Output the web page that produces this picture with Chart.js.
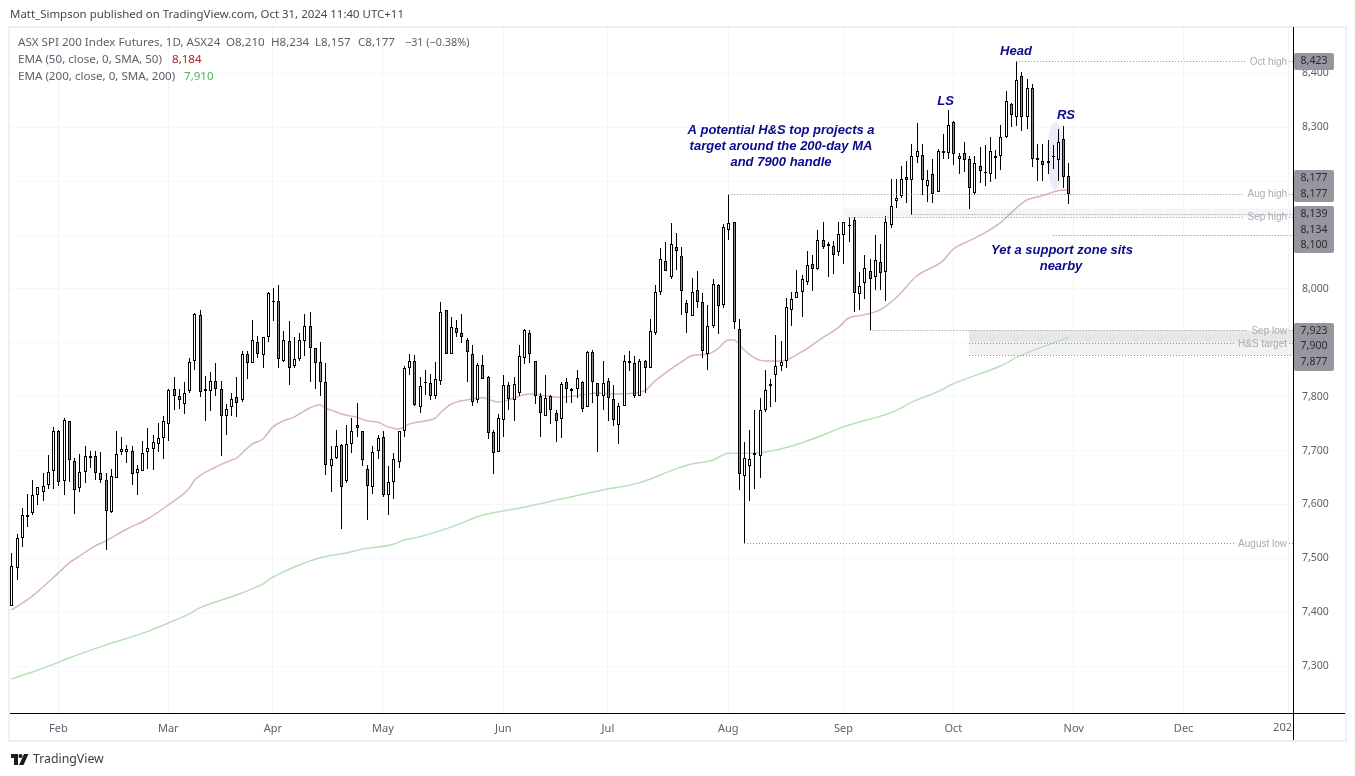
<!DOCTYPE html>
<html>
<head>
<meta charset="utf-8">
<title>ASX SPI 200 Index Futures</title>
<script src="https://cdn.jsdelivr.net/npm/chart.js@4/dist/chart.umd.min.js"></script>
<style>
  html, body { margin: 0; padding: 0; background: #fff; }
  canvas { display: block; }
</style>
</head>
<body>
<canvas id="spiChart" width="1355" height="776"></canvas>
<script>
const opens = [
  7412,7483,7537,7577,7585,7617,7624,7637,7663,7736,
  7643,7754,7680,7630,7661,7689,7689,7658,7646,7586,
  7650,7698,7698,7700,7659,7663,7697,7702,7713,7723,
  7750,7815,7801,7786,7810,7866,7951,7810,7810,7829,
  7815,7765,7780,7799,7793,7879,7862,7901,7877,7910,
  7977,7977,7867,7903,7856,7869,7903,7931,7890,7864,
  7828,7672,7687,7710,7643,7713,7747,7736,7665,7632,
  7700,7726,7617,7641,7678,7736,7854,7866,7780,7828,
  7825,7802,7830,7960,7879,7927,7918,7906,7880,7793,
  7858,7836,7734,7697,7756,7821,7793,7806,7871,7919,
  7866,7801,7765,7801,7769,7758,7827,7814,7814,7828,
  7780,7882,7825,7801,7830,7795,7748,7782,7867,7862,
  7802,7867,7853,7918,7994,8051,8022,8077,8061,7973,
  7949,7998,7975,7879,7931,8007,7970,8109,8124,7925,
  7652,7672,7691,7689,7776,7823,7840,7856,7866,7960,
  7984,7994,8012,8046,8036,8090,8083,8079,8068,8100,
  8118,8128,7990,8011,8033,8022,8050,8031,8118,8163,
  8172,8208,8202,8245,8248,8191,8213,8180,8256,8252,
  8310,8241,8252,8241,8178,8228,8217,8213,8243,8247,
  8282,8343,8319,8395,8319,8373,8239,8237,8233,8247,
  8239,8278,8210
];
const highs = [
  7509,7546,7593,7620,7645,7633,7659,7691,7743,7739,
  7760,7755,7687,7693,7708,7700,7700,7698,7659,7665,
  7737,7726,7711,7708,7674,7717,7741,7728,7752,7765,
  7814,7836,7814,7827,7871,7955,7960,7838,7845,7862,
  7829,7786,7806,7836,7884,7884,7942,7912,7910,7994,
  8001,8007,7921,7940,7910,7918,7953,7957,7891,7901,
  7862,7708,7739,7713,7747,7760,7788,7737,7674,7708,
  7728,7736,7671,7695,7737,7856,7879,7877,7836,7849,
  7843,7864,7975,7961,7947,7942,7953,7908,7895,7862,
  7877,7838,7739,7767,7841,7828,7836,7895,7925,7923,
  7867,7806,7841,7804,7776,7827,7834,7817,7849,7830,
  7884,7886,7826,7866,7834,7821,7789,7877,7884,7875,
  7869,7868,7944,8007,8076,8087,8122,8103,8077,7979,
  8020,8033,7992,7971,8018,8009,8120,8174,8125,7944,
  7715,7739,7775,7797,7849,7832,7914,7903,7983,7994,
  8035,8025,8070,8062,8109,8124,8087,8088,8124,8125,
  8133,8134,8031,8063,8055,8100,8083,8135,8204,8204,
  8228,8237,8269,8308,8269,8220,8241,8259,8287,8332,
  8311,8252,8273,8247,8247,8263,8267,8282,8258,8304,
  8367,8345,8423,8403,8390,8380,8269,8269,8276,8267,
  8297,8302,8234
];
const lows = [
  7412,7460,7521,7558,7581,7599,7606,7629,7629,7635,
  7618,7642,7583,7624,7639,7667,7646,7640,7516,7585,
  7650,7691,7676,7637,7618,7663,7666,7664,7697,7685,
  7718,7776,7778,7767,7806,7850,7800,7755,7774,7802,
  7690,7728,7765,7763,7791,7832,7862,7871,7853,7902,
  7941,7854,7864,7821,7854,7866,7875,7828,7814,7802,
  7654,7624,7684,7555,7639,7695,7726,7671,7572,7620,
  7685,7613,7581,7611,7667,7726,7840,7782,7769,7804,
  7793,7795,7821,7879,7879,7910,7899,7827,7782,7789,
  7832,7722,7656,7697,7726,7776,7754,7802,7860,7862,
  7786,7726,7765,7750,7715,7724,7789,7789,7797,7771,
  7780,7789,7697,7776,7754,7745,7713,7782,7847,7797,
  7802,7806,7853,7914,7988,8033,8018,8035,7951,7918,
  7949,7964,7871,7849,7927,7916,7964,8090,7925,7626,
  7528,7606,7628,7650,7771,7780,7791,7847,7854,7932,
  7983,7947,8007,7996,8035,8074,8023,8027,8061,8046,
  8087,7957,7960,7981,7923,7998,7998,7977,8113,8150,
  8169,8160,8137,8234,8175,8161,8160,8180,8241,8241,
  8230,8214,8217,8149,8174,8196,8191,8198,8204,8220,
  8280,8300,8302,8293,8297,8226,8200,8200,8213,8222,
  8200,8187,8157
];
const closes = [
  7485,7537,7580,7581,7617,7633,7635,7661,7737,7641,
  7756,7682,7626,7661,7689,7689,7658,7646,7587,7652,
  7693,7702,7702,7656,7665,7695,7704,7715,7723,7754,
  7812,7801,7793,7806,7864,7953,7808,7814,7830,7815,
  7765,7778,7795,7789,7879,7862,7905,7879,7910,7992,
  7975,7869,7906,7854,7869,7905,7932,7890,7862,7828,
  7674,7685,7708,7633,7713,7737,7741,7682,7635,7698,
  7724,7617,7641,7684,7736,7854,7866,7784,7819,7825,
  7802,7832,7958,7880,7929,7918,7910,7882,7791,7858,
  7832,7732,7695,7760,7821,7795,7823,7875,7923,7879,
  7802,7769,7797,7775,7754,7823,7814,7814,7834,7778,
  7882,7827,7802,7825,7797,7756,7782,7866,7862,7802,
  7866,7853,7921,7994,8055,8033,8083,8070,7996,7955,
  7994,7975,7884,7931,8009,7968,8115,8122,7938,7656,
  7687,7684,7695,7775,7812,7823,7856,7864,7966,7981,
  7994,8018,8044,8036,8090,8077,8079,8062,8101,8124,
  8116,7992,8005,8038,8018,8053,8029,8124,8154,8169,
  8204,8202,8247,8256,8202,8202,8176,8256,8252,8304,
  8250,8247,8239,8187,8234,8219,8215,8256,8247,8282,
  8349,8323,8388,8319,8373,8241,8243,8230,8237,8245,
  8272,8208,8177
];

// EMA lines at the bars where they bend
const ema50Bars = [0,4,9,11,13,16,18,22,26,30,34,35,39,42,43,46,48,50,52,54,57,59,60,62,63,66,68,70,72,74,76,79,81,82,84,87,90,93,95,99,101,105,109,112,116,121,123,126,128,130,133,135,137,138,140,142,144,147,151,155,158,160,162,166,169,173,178,180,183,186,189,192,194,197,200,202];
const ema50Values = [7404,7430,7473,7491,7504,7523,7532,7554,7573,7599,7630,7645,7669,7682,7686,7712,7721,7744,7755,7762,7779,7785,7779,7772,7768,7762,7755,7753,7744,7740,7749,7755,7760,7770,7786,7794,7798,7790,7794,7805,7803,7799,7803,7807,7805,7811,7829,7851,7864,7876,7879,7889,7905,7905,7887,7872,7866,7866,7883,7909,7928,7946,7950,7961,7983,8024,8052,8074,8089,8104,8123,8150,8165,8173,8182,8184];
const ema200Bars = [0,4,9,11,18,26,30,34,36,43,48,50,59,64,67,73,75,78,84,90,98,105,113,120,127,130,134,137,141,147,153,159,162,168,173,177,180,189,193,202];
const ema200Values = [7276,7289,7307,7315,7339,7364,7380,7397,7408,7432,7452,7465,7501,7510,7517,7526,7534,7540,7558,7580,7595,7610,7627,7640,7666,7675,7682,7695,7695,7703,7721,7744,7753,7770,7794,7809,7824,7857,7877,7910];

const monthBars = [9,30,50,71,94,114,137,159,180,203,224,244];
const monthLabels = ["Feb","Mar","Apr","May","Jun","Jul","Aug","Sep","Oct","Nov","Dec",""];

const levelLabels = ["Oct high","Aug high","","Sep high","","August low","Sep low","H&S target",""];
const levelValues = [8423,8177,8139,8134,8100,7528,7923,7900,7877];
const levelStartBars = [192,137,172,160,199,140,164,183,183];

const tagValues = [8423,8177,8177,8139,8134,8100,7923,7900,7877];
const tagTextY = [61.5,178,194,214,230,245,331,346,362];
const tagBoxes = [[53,70],[170,202],[206,253],[323,371]];

const uiFont = '"Noto Sans", sans-serif';
const noteFont = '"Liberation Sans", Arial, sans-serif';
const noteColor = "#0a0a8c";

const candleBars = opens.map((_, i) => ({ x: i, y: [lows[i], highs[i]] }));
const candleBodies = opens.map((o, i) => ({ x: i, y: [Math.min(o, closes[i]), Math.max(o, closes[i])] }));
const bodyColors = opens.map((o, i) => (closes[i] >= o ? "#ffffff" : "#8a8b92"));

function drawText(ctx, text, x, y, font, color, align) {
  ctx.font = font;
  ctx.fillStyle = color;
  ctx.textAlign = align || "left";
  ctx.textBaseline = "middle";
  ctx.fillText(text, x, y);
}

function hDotted(ctx, x1, x2, y) {
  ctx.save();
  ctx.strokeStyle = "#8b8e97";
  ctx.lineWidth = 1;
  ctx.setLineDash([1, 2]);
  ctx.beginPath();
  ctx.moveTo(x1, Math.round(y) + 0.5);
  ctx.lineTo(x2, Math.round(y) + 0.5);
  ctx.stroke();
  ctx.restore();
}

// keep candles crisp, the reference snaps them to whole pixels
const snapPlugin = {
  id: "snapCandles",
  afterDatasetsUpdate(chart) {
    [0, 1].forEach((d) => {
      chart.getDatasetMeta(d).data.forEach((el) => {
        el.x = Math.round(el.x) + 0.5;
        el.y = Math.round(el.y);
        el.base = Math.round(el.base);
        if (el.y === el.base) el.base = el.y + 2;
      });
    });
  }
};

const zonesPlugin = {
  id: "zones",
  beforeDatasetsDraw(chart) {
    const ctx = chart.ctx;
    const xs = chart.scales.x;
    const ys = chart.scales.y;
    const right = chart.chartArea.right;

    // resistance band under the Aug/Sep highs
    const bandX = xs.getPixelForValue(159);
    ctx.fillStyle = "#f4f5f7";
    ctx.fillRect(bandX, ys.getPixelForValue(8149), right - bandX, ys.getPixelForValue(8134) - ys.getPixelForValue(8149));

    // H&S target zone
    const zoneX = xs.getPixelForValue(183);
    ctx.fillStyle = "#e7e7e8";
    ctx.fillRect(zoneX, ys.getPixelForValue(7923), right - zoneX, ys.getPixelForValue(7900) - ys.getPixelForValue(7923));
    ctx.fillStyle = "#f2f2f3";
    ctx.fillRect(zoneX, ys.getPixelForValue(7900), right - zoneX, ys.getPixelForValue(7877) - ys.getPixelForValue(7900));

    // right shoulder marker
    ctx.fillStyle = "#ecebf6";
    ctx.beginPath();
    ctx.ellipse(xs.getPixelForValue(199.5), ys.getPixelForValue(8247), 8.5, 34, 0, 0, Math.PI * 2);
    ctx.fill();
  }
};

const overlayPlugin = {
  id: "overlay",
  afterDraw(chart) {
    const ctx = chart.ctx;
    const xs = chart.scales.x;
    const ys = chart.scales.y;
    const { left, right, bottom } = chart.chartArea;

    // level lines and their small labels
    const levelFont = "10px " + noteFont;
    levelValues.forEach((v, i) => {
      const y = ys.getPixelForValue(v);
      const x1 = xs.getPixelForValue(levelStartBars[i]);
      const label = levelLabels[i];
      if (label) {
        ctx.font = levelFont;
        const w = ctx.measureText(label).width;
        hDotted(ctx, x1, right - 6 - w - 4, y);
        hDotted(ctx, right - 4, right, y);
        drawText(ctx, label, right - 6, y + 1, levelFont, "#a9abb3", "right");
      } else {
        hDotted(ctx, x1, right, y);
      }
    });

    // frame and axis lines
    ctx.strokeStyle = "#eff0f4";
    ctx.lineWidth = 2;
    ctx.strokeRect(9, 27, 1337, 714);
    ctx.fillStyle = "#000";
    ctx.fillRect(right, 27, 1, 713);
    ctx.fillRect(left, bottom, 1335, 1);

    // next year label is cut off by the price axis
    drawText(ctx, "202", right - 1, 728, "11px " + uiFont, "#5d606b", "right");

    // price tags on the axis
    ctx.fillStyle = "#95969e";
    tagBoxes.forEach((b) => {
      ctx.beginPath();
      ctx.roundRect(right + 1, b[0], 40, b[1] - b[0], 2);
      ctx.fill();
    });
    tagValues.forEach((v, i) => {
      drawText(ctx, v.toLocaleString("en-US"), right + 21, tagTextY[i], "10.5px " + uiFont, "#2a2c33", "center");
    });

    // header and legend
    drawText(ctx, "Matt_Simpson published on TradingView.com, Oct 31, 2024 11:40 UTC+11", 10, 14.5, "11.46px " + uiFont, "#45474f");
    const legendFont = "11.6px " + uiFont;
    const parts = ["ASX SPI 200 Index Futures, 1D, ASX24", "O8,210", "H8,234", "L8,157", "C8,177"];
    const partX = [18, 226, 271, 315, 358];
    parts.forEach((t, i) => drawText(ctx, t, partX[i], 42.5, legendFont, "#5d606b"));
    drawText(ctx, "\u221231 (\u22120.38%)", 405, 42.5, "10.8px " + uiFont, "#5d606b");
    drawText(ctx, "EMA (50, close, 0, SMA, 50)", 18, 59.5, legendFont, "#5d606b");
    drawText(ctx, "8,184", 172, 59.5, legendFont, "#a5262e");
    drawText(ctx, "EMA (200, close, 0, SMA, 200)", 18, 76.5, legendFont, "#5d606b");
    drawText(ctx, "7,910", 184, 76.5, legendFont, "#56b35a");

    // chart notes
    const bold = "italic bold 13px " + noteFont;
    drawText(ctx, "A potential H&S top projects a", 781, 130.5, bold, noteColor, "center");
    drawText(ctx, "target around the 200-day MA", 781, 146.5, bold, noteColor, "center");
    drawText(ctx, "and 7900 handle", 781, 162.5, bold, noteColor, "center");
    drawText(ctx, "Yet a support zone sits", 1062, 250, bold, noteColor, "center");
    drawText(ctx, "nearby", 1061, 266, bold, noteColor, "center");
    drawText(ctx, "Head", 1016, 51, bold, noteColor, "center");
    drawText(ctx, "LS", 945.5, 101, bold, noteColor, "center");
    drawText(ctx, "RS", 1066, 115, bold, noteColor, "center");

    // TradingView logo
    ctx.fillStyle = "#1b1c20";
    ctx.fillRect(11, 754, 7, 4);
    ctx.fillRect(14, 754, 4, 11);
    ctx.beginPath();
    ctx.arc(20.5, 756, 2, 0, Math.PI * 2);
    ctx.fill();
    ctx.beginPath();
    ctx.moveTo(24, 754);
    ctx.lineTo(28.5, 754);
    ctx.lineTo(23.5, 765);
    ctx.lineTo(19, 765);
    ctx.closePath();
    ctx.fill();
    drawText(ctx, "TradingView", 33, 759.5, "12.3px " + uiFont, "#3a3b41");
  }
};

new Chart(document.getElementById("spiChart"), {
  type: "bar",
  data: {
    datasets: [
      {
        data: candleBars,
        backgroundColor: "#000000",
        barThickness: 1,
        grouped: false,
        inflateAmount: 0,
        order: 2
      },
      {
        data: candleBodies,
        backgroundColor: bodyColors,
        borderColor: "#000000",
        borderWidth: 1,
        borderSkipped: false,
        barThickness: 3,
        grouped: false,
        inflateAmount: 0,
        order: 1
      },
      {
        type: "line",
        data: ema50Bars.map((b, i) => ({ x: b, y: ema50Values[i] })),
        borderColor: "#d9b5b9",
        borderWidth: 1.5,
        pointRadius: 0,
        cubicInterpolationMode: "monotone",
        order: 3
      },
      {
        type: "line",
        data: ema200Bars.map((b, i) => ({ x: b, y: ema200Values[i] })),
        borderColor: "#b9e0b8",
        borderWidth: 1.5,
        pointRadius: 0,
        cubicInterpolationMode: "monotone",
        order: 3
      }
    ]
  },
  plugins: [snapPlugin, zonesPlugin, overlayPlugin],
  options: {
    responsive: false,
    animation: false,
    events: [],
    layout: { padding: { left: 10, top: 27, right: 10, bottom: 35 } },
    plugins: { legend: { display: false }, tooltip: { enabled: false } },
    scales: {
      x: {
        type: "linear",
        min: -0.25,
        max: 244.9,
        offset: false,
        afterBuildTicks(scale) {
          scale.ticks = monthBars.map((b) => ({ value: b }));
        },
        afterFit(scale) {
          scale.height = 28;
        },
        grid: { color: "#f3f4f7", offset: false, drawTicks: false },
        border: { display: false },
        ticks: {
          autoSkip: false,
          maxRotation: 0,
          padding: 9,
          color: "#5d606b",
          font: { family: "Noto Sans", size: 11 },
          callback: (value) => monthLabels[monthBars.indexOf(value)]
        }
      },
      y: {
        position: "right",
        min: 7213,
        max: 8486,
        afterFit(scale) {
          scale.width = 52;
        },
        grid: { color: "#f6f7f9", drawTicks: false },
        border: { display: false },
        ticks: {
          stepSize: 100,
          includeBounds: false,
          padding: 9,
          color: "#5d606b",
          font: { family: "Noto Sans", size: 10.5 },
          callback: (value) => value.toLocaleString("en-US")
        }
      }
    }
  }
});
</script>
</body>
</html>
